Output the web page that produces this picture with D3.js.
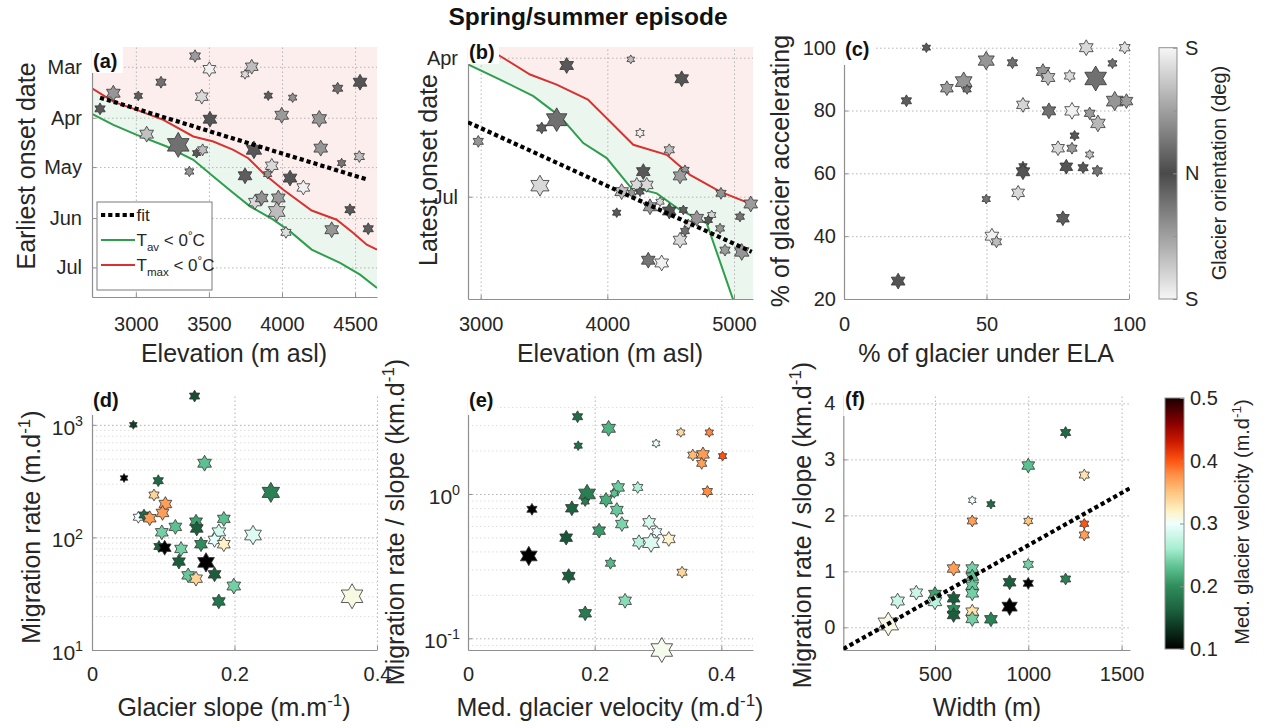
<!DOCTYPE html>
<html>
<head>
<meta charset="utf-8">
<script src="https://cdn.jsdelivr.net/npm/d3@7"></script>
<style>
  body { margin: 0; background: #fff; }
  svg text { font-family: Arial, "Liberation Sans", sans-serif; }
</style>
</head>
<body>
<svg id="fig" width="1268" height="728"></svg>
<script>
// ---------------- data ----------------
// (a) earliest onset date (day of year) against elevation
const aElev   = [2755,2846,3017,3172,3405,3503,3451,3507,3074,3290,3416,3457,3366,3747,3793,3906,4073,3998,4255,4381,4534,3808,3930,3902,3747,4055,4146,4265,4408,4529,3815,3861,3975,3964,4027,4465,4340,4590];
const aOnset  = [85.6,76.1,77.7,69.4,53.5,61.5,78.2,91.9,101,107.5,112.5,110.5,123.7,64.6,60,77.6,78.8,89.5,91.7,73.1,69.4,110.5,120.2,125.3,126.3,127.7,133.4,109.5,118.6,114.6,142.3,139.8,139.8,148,160.7,146.9,159.1,158.5];
const aOrient = [15,-80,20,-40,85,175,-150,10,125,-40,-15,120,-80,150,-120,20,75,-85,80,40,-10,15,-150,80,-20,10,-175,-80,45,120,150,-75,85,-120,155,-15,80,20];
const aArea   = [9,16,6,9,10,14,14,16,16,40,6,9,7,6,14,6,6,16,18,9,16,20,14,6,16,16,14,16,6,9,14,14,16,24,9,9,16,9];
const aRedElev  = [2700,2846,3006,3188,3393,3530,3667,3769,3872,4009,4203,4374,4488,4580,4650];
const aRedDay   = [73.1,81.2,86.2,92.3,102.4,105.5,110.5,115.6,124.7,134.8,147.4,153,161.1,168.2,171.2];
const aGreenElev= [2700,2846,3006,3211,3393,3530,3667,3781,3940,4055,4203,4397,4534,4650];
const aGreenDay = [88.7,95.3,101.4,108.5,116.6,126.7,136.8,144.9,153,160.1,171.2,179.3,186.4,194.5];
const aFitElev  = [2755,4590];
const aFitDay   = [78.8,128.8];
const aElevTicks  = [3000,3500,4000,4500];
const aMonthTicks = [60,91,121,152,182];
const aMonthLabels= ["Mar","Apr","May","Jun","Jul"];

// (b) latest onset date against elevation
const bElev   = [2981,3679,4185,4587,3600,3482,3468,4258,4489,4284,4613,4574,4897,5132,4113,4232,4311,4192,4258,4074,4337,4416,4489,4600,4706,4824,4797,4639,4613,4574,4890,5047,4929,5061,4323,4429];
const bOnset  = [145.8,96.1,92.1,104.8,131.6,137,174.8,140.3,151.3,165.6,164.4,168.4,179.8,186.8,178.7,174.3,174.3,179.4,178.7,192.5,188.6,185.3,191.4,190.7,196.2,194,197.3,200,204.5,210.5,202.8,195.1,217,218.2,223.6,225.4];
const bOrient = [80,-15,120,10,-40,20,150,175,-120,15,-80,85,75,-85,125,-150,150,-80,-20,15,85,150,-10,20,-80,145,-15,155,40,-150,80,-45,85,-80,45,175];
const bArea   = [9,16,5,16,36,9,28,6,9,16,6,16,9,16,16,14,14,6,6,6,16,6,16,6,16,6,6,7,7,16,7,7,9,18,16,16];
const bRedElev  = [2900,3153,3390,3600,3847,4205,4469,4653,4890,5152];
const bRedDay   = [77,89.9,102,108.6,118.4,148,154.6,167.7,178.7,187.4];
const bGreenElev= [2900,3153,3416,3626,3810,3995,4179,4390,4574,4785,4995,5152];
const bGreenDay = [95.4,105.3,116.2,129.4,146.9,156.7,175.4,179.8,190.7,199.5,249.9,290];
const bFitElev  = [2900,5140];
const bFitDay   = [133.3,218.1];
const bElevTicks  = [3000,4000,5000];
const bMonthTicks = [91,182];
const bMonthLabels= ["Apr","Jul"];

// (c) share of glacier accelerating against share under the ELA
const cUnderELA = [28.9,21.9,19,36.1,42,43.2,49.9,59.1,49.9,51.9,53.5,61.1,62.8,62.8,62.8,69.8,71.6,79.2,71.9,80,75.1,80,80.9,76.8,78,83.9,86.2,88.9,85,88.3,94.2,98.5,86.2,89.1,95,99.1];
const cAccel    = [100,83.1,25.7,87.1,89.2,86.7,95.9,95.2,51.8,40,38.2,53.8,81.8,62.3,60.5,92.4,90.5,91,79.9,79.9,68,68,72,45.7,62.1,61.8,66,60.8,100,90.2,95,100,79.1,75.9,83,83];
const cOrient   = [15,-20,10,85,-80,45,80,-40,40,175,-120,150,-145,15,-10,80,-120,150,40,-175,150,85,-15,20,-10,15,125,-45,150,40,-40,155,-85,115,80,-85];
const cArea     = [6,9,16,14,24,6,22,9,6,16,9,14,14,6,16,16,16,10,16,18,14,9,7,14,14,9,6,9,16,40,7,10,10,18,24,14];
const cTicks    = [0,50,100];
const cAccTicks = [20,40,60,80,100];
const orientTicks  = [-180,-90,0,90,180];
const orientLabels = ["S","","N","","S"];

// (d) migration rate against glacier slope
const dSlope = [0.144,0.058,0.045,0.093,0.158,0.087,0.103,0.099,0.065,0.073,0.081,0.098,0.117,0.146,0.147,0.185,0.178,0.172,0.185,0.153,0.094,0.102,0.125,0.122,0.160,0.172,0.135,0.146,0.199,0.178,0.251,0.226,0.365];
const dRate  = [1800,1000,337,319,456,238,198,165,151,158,148,111,124,138,120,146,112,95,87,87,83,81,79,61,60,47,46,43,37,27,251,105,30];
const dVel   = [0.15,0.14,0.1,0.17,0.23,0.34,0.37,0.37,0.3,0.17,0.37,0.24,0.23,0.21,0.16,0.23,0.285,0.295,0.32,0.2,0.16,0.1,0.24,0.16,0.1,0.16,0.235,0.34,0.24,0.18,0.19,0.29,0.31];
const dArea  = [9,5,5,9,16,9,14,14,9,9,14,14,14,14,14,14,16,14,14,14,9,14,14,14,24,14,14,14,16,14,26,24,40];
const dSlopeTicks = [0,0.2,0.4];
const dRateTicks  = [10,100,1000];

// (e) migration rate / slope against median glacier velocity
const eVel   = [0.173,0.222,0.174,0.336,0.381,0.297,0.355,0.371,0.369,0.402,0.378,0.268,0.237,0.231,0.188,0.185,0.218,0.235,0.243,0.207,0.164,0.101,0.155,0.096,0.159,0.286,0.298,0.27,0.289,0.317,0.225,0.338,0.248,0.185,0.306];
const eRatio = [3.43,2.85,2.16,2.67,2.67,2.24,1.86,1.88,1.63,1.83,1.04,1.11,1.11,1.01,1.0,0.885,0.909,0.774,0.619,0.557,0.796,0.783,0.498,0.372,0.27,0.636,0.548,0.463,0.46,0.488,0.331,0.287,0.182,0.149,0.083];
const eArea  = [9,16,6,6,6,5,9,14,9,6,9,9,14,6,24,6,14,14,14,14,14,9,14,24,14,14,9,14,24,14,9,9,14,14,40];
const eVelTicks   = [0,0.2,0.4];
const eRatioTicks = [0.1,1];

// (f) migration rate / slope against glacier width
const fWidth = [1200,1000,1300,700,800,700,1000,1300,1300,1000,600,700,700,1200,900,1000,700,700,500,400,300,500,600,600,600,700,700,800,900,250];
const fRatio = [3.48,2.89,2.72,2.27,2.2,1.9,1.9,1.85,1.65,1.125,1.05,1.05,0.905,0.863,0.804,0.786,0.744,0.607,0.595,0.619,0.47,0.458,0.518,0.321,0.22,0.28,0.149,0.143,0.369,0.06];
const fVel   = [0.17,0.23,0.33,0.3,0.17,0.37,0.35,0.4,0.37,0.24,0.37,0.24,0.23,0.19,0.16,0.1,0.235,0.24,0.21,0.28,0.28,0.27,0.16,0.2,0.16,0.33,0.24,0.19,0.1,0.31];
const fArea  = [9,14,9,5,6,9,7,7,9,9,14,14,14,9,14,9,14,14,14,14,16,16,14,14,14,14,14,14,20,36];
const fFitWidth = [9,1545];
const fFitRatio = [-0.387,2.485];
const fWidthTicks = [500,1000,1500];
const fRatioTicks = [0,1,2,3,4];
const velTicks = [0.1,0.2,0.3,0.4,0.5];

// ---------------- styling helpers ----------------
const svg = d3.select("#fig");
const AXC = "#8f8f8f", TXT = "#262626";
const TICK = 20, LAB = 25;

const velStops  = [0.10,0.13,0.16,0.20,0.23,0.26,0.30,0.32,0.35,0.38,0.40,0.43,0.46,0.50];
const velColors = ["#000000","#0b2e1c","#1b5e3c","#2f8d5c","#5cc090","#a6eed0","#f0ffff","#fff2c4","#ffc57f","#ff8a42","#ff5511","#cc1a00","#880000","#1a0000"];
const velColor = d3.scaleLinear().domain(velStops).range(velColors).clamp(true);
const grayOf = o => d3.interpolateRgb("#4a4a4a", "#f6f6f6")(Math.abs(o) / 180);
const rScale = d3.scaleSqrt().domain([0, 40]).range([0, 12.5]);

function hexagram(R) {
  const p = [];
  for (let k = 0; k < 12; k++) {
    const a = (-90 + k * 30) * Math.PI / 180;
    const r = k % 2 ? R / Math.sqrt(3) : R;
    p.push([r * Math.cos(a), r * Math.sin(a)]);
  }
  return d3.line()(p) + "Z";
}

let clipN = 0;
function clipRect(x, y) {
  const id = "clip" + (clipN++);
  const [a0, a1] = x.range(), [b0, b1] = y.range();
  svg.append("clipPath").attr("id", id).append("rect")
    .attr("x", Math.min(a0, a1)).attr("y", Math.min(b0, b1))
    .attr("width", Math.abs(a1 - a0)).attr("height", Math.abs(b1 - b0));
  return `url(#${id})`;
}

function richText(parent, parts, x, y, size, opts = {}) {
  const t = parent.append("text").attr("x", x).attr("y", y)
    .attr("font-size", size).attr("text-anchor", opts.anchor || "middle")
    .attr("fill", opts.fill || TXT);
  if (opts.rotate) t.attr("transform", `rotate(${opts.rotate},${x},${y})`);
  if (opts.weight) t.attr("font-weight", opts.weight);
  if (opts.family) t.attr("font-family", opts.family);
  let shift = 0;
  parts.forEach(p => {
    const [s, k] = typeof p === "string" ? [p, "n"] : p;
    const target = k === "sup" ? -0.42 * size : k === "sub" ? 0.32 * size : 0;
    t.append("tspan").attr("dy", target - shift)
      .attr("font-size", k === "n" ? size : size * 0.68).text(s);
    shift = target;
  });
  return t;
}

function gridX(g, x, y, vals, color) {
  const [b0, b1] = y.range();
  const gg = g.append("g").attr("transform", `translate(0,${Math.max(b0, b1)})`)
    .call(d3.axisBottom(x).tickValues(vals).tickSize(-Math.abs(b1 - b0)).tickFormat(""));
  gg.select(".domain").remove();
  gg.selectAll("line").attr("stroke", color || "#b5b5b5").attr("stroke-dasharray", "1.5,2.5");
}
function gridY(g, x, y, vals, color) {
  const [a0, a1] = x.range();
  const gg = g.append("g").attr("transform", `translate(${a0},0)`)
    .call(d3.axisLeft(y).tickValues(vals).tickSize(-(a1 - a0)).tickFormat(""));
  gg.select(".domain").remove();
  gg.selectAll("line").attr("stroke", color || "#b5b5b5").attr("stroke-dasharray", "1.5,2.5");
}
function styleAxis(gg) {
  gg.select(".domain").attr("stroke", AXC).attr("stroke-width", 1.2);
  gg.selectAll(".tick line").attr("stroke", AXC);
  gg.selectAll(".tick text").attr("fill", TXT).attr("font-size", TICK)
    .attr("font-family", "Arial, 'Liberation Sans', sans-serif");
}
function axisBottom(g, x, y, vals, fmt, pad) {
  const gg = g.append("g").attr("transform", `translate(0,${y.range()[0]})`)
    .call(d3.axisBottom(x).tickValues(vals).tickFormat(fmt).tickSizeInner(-4).tickSizeOuter(0).tickPadding(pad));
  styleAxis(gg);
  return gg;
}
function axisLeft(g, x, y, vals, fmt, pad) {
  const gg = g.append("g").attr("transform", `translate(${x.range()[0]},0)`)
    .call(d3.axisLeft(y).tickValues(vals).tickFormat(fmt).tickSizeInner(-4).tickSizeOuter(0).tickPadding(pad));
  styleAxis(gg);
  return gg;
}
function logLabels(g, x, y, vals, pad, size) {
  vals.forEach(v => {
    const e = Math.round(Math.log10(v));
    richText(g, ["10", [String(e), "sup"]], x.range()[0] - pad, y(v) + 10, size, { anchor: "end" });
  });
}
function panelTag(g, txt, bx, by, bw, bh, tx, ty) {
  g.append("rect").attr("x", bx).attr("y", by).attr("width", bw).attr("height", bh).attr("fill", "#fff");
  g.append("text").attr("x", tx).attr("y", ty).attr("font-size", 20).attr("font-weight", "bold")
    .attr("font-family", "'Liberation Serif', 'Times New Roman', serif").attr("fill", "#111").text(txt);
}
function stars(g, xs, ys, areas, fill, x, y) {
  g.append("g").selectAll("path").data(d3.range(xs.length)).join("path")
    .attr("transform", i => `translate(${x(xs[i])},${y(ys[i])})`)
    .attr("d", i => hexagram(rScale(areas[i])))
    .attr("fill", i => fill(i))
    .attr("stroke", "#333").attr("stroke-width", 0.8).attr("stroke-linejoin", "miter");
}
function fitLine(g, xs, ys, x, y, clip) {
  g.append("path").attr("clip-path", clip)
    .attr("d", d3.line()(xs.map((v, i) => [x(v), y(ys[i])])))
    .attr("fill", "none").attr("stroke", "#000").attr("stroke-width", 4.2)
    .attr("stroke-dasharray", "4.2,3");
}
function thresholdBands(g, x, y, redX, redY, greenX, greenY, clip) {
  const top = y.domain()[0];
  const red = redX.map((v, i) => [v, redY[i]]);
  const green = greenX.map((v, i) => [v, greenY[i]]);
  const body = g.append("g").attr("clip-path", clip);
  body.append("path")
    .attr("d", d3.area().x(d => x(d[0])).y0(y(top)).y1(d => y(d[1]))(red))
    .attr("fill", "rgba(235,90,90,0.10)");
  body.append("path")
    .attr("d", d3.line().x(d => x(d[0])).y(d => y(d[1]))(red.concat(green.slice().reverse())) + "Z")
    .attr("fill", "rgba(70,175,110,0.11)");
  return body;
}
function thresholdLines(body, x, y, redX, redY, greenX, greenY) {
  const ln = d3.line().x(d => x(d[0])).y(d => y(d[1]));
  body.append("path").attr("d", ln(greenX.map((v, i) => [v, greenY[i]])))
    .attr("fill", "none").attr("stroke", "#2f9e4c").attr("stroke-width", 2);
  body.append("path").attr("d", ln(redX.map((v, i) => [v, redY[i]])))
    .attr("fill", "none").attr("stroke", "#d8322f").attr("stroke-width", 2);
}

// ---------------- title ----------------
svg.append("text").attr("x", 588).attr("y", 25).attr("text-anchor", "middle")
  .attr("font-size", 24.5).attr("font-weight", "bold").attr("fill", "#111")
  .text("Spring/summer episode");

// ---------------- (a) ----------------
{
  const g = svg.append("g");
  const x = d3.scaleLinear().domain([2700, 4650]).range([92, 377]);
  const y = d3.scaleLinear().domain([48, 200]).range([47, 297]);
  const clip = clipRect(x, y);
  thresholdBands(g, x, y, aRedElev, aRedDay, aGreenElev, aGreenDay, clip);
  gridX(g, x, y, aElevTicks);
  gridY(g, x, y, aMonthTicks);
  thresholdLines(g.append("g").attr("clip-path", clip), x, y, aRedElev, aRedDay, aGreenElev, aGreenDay);
  axisBottom(g, x, y.copy().range([297, 47]), aElevTicks, d3.format("d"), 20);
  axisLeft(g, x, y, aMonthTicks, (d, i) => aMonthLabels[i], 10);
  stars(g, aElev, aOnset, aArea, i => grayOf(aOrient[i]), x, y);
  fitLine(g, aFitElev, aFitDay, x, y, clip);
  panelTag(g, "(a)", 92, 44, 31, 29, 93, 68);
  richText(g, ["Earliest onset date"], 35, 166, LAB, { rotate: -90 });
  richText(g, ["Elevation (m asl)"], 234, 362, LAB);

  // legend
  const lg = g.append("g");
  lg.append("rect").attr("x", 97).attr("y", 202).attr("width", 115).attr("height", 88)
    .attr("fill", "#fff").attr("stroke", "#7a7a7a").attr("stroke-width", 1);
  const rows = [
    { y: 215, stroke: "#000", dash: "4.2,3", w: 4.2, parts: ["fit"] },
    { y: 240, stroke: "#2f9e4c", dash: null, w: 2, parts: ["T", ["av", "sub"], " < 0", ["°", "sup"], "C"] },
    { y: 265, stroke: "#d8322f", dash: null, w: 2, parts: ["T", ["max", "sub"], " < 0", ["°", "sup"], "C"] }
  ];
  rows.forEach(r => {
    const l = lg.append("line").attr("x1", 101).attr("x2", 135).attr("y1", r.y).attr("y2", r.y)
      .attr("stroke", r.stroke).attr("stroke-width", r.w);
    if (r.dash) l.attr("stroke-dasharray", r.dash);
    richText(lg, r.parts, 136.5, r.y + 6, 17, { anchor: "start" });
  });
}

// ---------------- (b) ----------------
{
  const g = svg.append("g");
  const x = d3.scaleLinear().domain([2900, 5150]).range([468, 753]);
  const y = d3.scaleLinear().domain([84, 249]).range([47, 299]);
  const clip = clipRect(x, y);
  thresholdBands(g, x, y, bRedElev, bRedDay, bGreenElev, bGreenDay, clip);
  gridX(g, x, y, bElevTicks);
  gridY(g, x, y, bMonthTicks);
  thresholdLines(g.append("g").attr("clip-path", clip), x, y, bRedElev, bRedDay, bGreenElev, bGreenDay);
  axisBottom(g, x, y.copy().range([299, 47]), bElevTicks, d3.format("d"), 18);
  axisLeft(g, x, y, bMonthTicks, (d, i) => bMonthLabels[i], 10);
  stars(g, bElev, bOnset, bArea, i => grayOf(bOrient[i]), x, y);
  fitLine(g, bFitElev, bFitDay, x, y, clip);
  panelTag(g, "(b)", 468, 38, 31, 26, 469, 59);
  richText(g, ["Latest onset date"], 437, 170, LAB, { rotate: -90 });
  richText(g, ["Elevation (m asl)"], 610, 362, LAB);
}

// ---------------- (c) ----------------
{
  const g = svg.append("g");
  const x = d3.scaleLinear().domain([0, 100]).range([844, 1129]);
  const y = d3.scaleLinear().domain([20, 100]).range([299, 47.7]);
  gridX(g, x, y, [50, 100]);
  gridY(g, x, y, [40, 60, 80, 100]);
  axisBottom(g, x, y, cTicks, d3.format("d"), 18);
  axisLeft(g, x, y, cAccTicks, d3.format("d"), 8);
  stars(g, cUnderELA, cAccel, cArea, i => grayOf(cOrient[i]), x, y);
  panelTag(g, "(c)", 844, 36, 30, 29, 845, 56);
  richText(g, ["% of glacier accelerating"], 789, 171, LAB, { rotate: -90 });
  richText(g, ["% of glacier under ELA"], 986, 362, LAB);

  // orientation colour bar
  const cb = d3.scaleLinear().domain([-180, 180]).range([299, 47.7]);
  const gid = "gradOrient";
  const grad = svg.append("defs").append("linearGradient").attr("id", gid)
    .attr("x1", 0).attr("x2", 0).attr("y1", 1).attr("y2", 0);
  d3.range(-180, 181, 15).forEach(o => grad.append("stop")
    .attr("offset", (o + 180) / 360).attr("stop-color", grayOf(o)));
  g.append("rect").attr("x", 1159).attr("y", 47.7).attr("width", 18).attr("height", 299 - 47.7)
    .attr("fill", `url(#${gid})`).attr("stroke", AXC).attr("stroke-width", 1);
  const ca = g.append("g").attr("transform", "translate(1177,0)")
    .call(d3.axisRight(cb).tickValues(orientTicks).tickFormat((d, i) => orientLabels[i])
      .tickSizeInner(-4).tickSizeOuter(0).tickPadding(8));
  ca.select(".domain").remove();
  styleAxis(ca);
  richText(g, ["Glacier orientation (deg)"], 1226, 173, 20, { rotate: -90 });
}

// ---------------- (d) ----------------
{
  const g = svg.append("g");
  const x = d3.scaleLinear().domain([0, 0.4]).range([92, 377]);
  const y = d3.scaleLog().domain([10, 1840]).range([650, 395]);
  const minors = [];
  [10, 100, 1000].forEach(b => d3.range(2, 10).forEach(k => { if (k * b < 1840) minors.push(k * b); }));
  gridY(g, x, y, minors, "#dedede");
  gridY(g, x, y, [100, 1000], "#b0b0b0");
  gridX(g, x, y, [0.2, 0.4]);
  axisBottom(g, x, y, dSlopeTicks, d3.format("~g"), 17);
  axisLeft(g, x, y, dRateTicks, () => "", 9);
  logLabels(g, x, y, dRateTicks, 9, 21);
  stars(g, dSlope, dRate, dArea, i => velColor(dVel[i]), x, y);
  panelTag(g, "(d)", 92, 386, 30, 29, 93, 407);
  richText(g, ["Migration rate (m.d", ["-1", "sup"], ")"], 40, 527, LAB, { rotate: -90 });
  richText(g, ["Glacier slope (m.m", ["-1", "sup"], ")"], 234, 716, LAB);
}

// ---------------- (e) ----------------
{
  const g = svg.append("g");
  const x = d3.scaleLinear().domain([0, 0.45]).range([468, 753]);
  const y = d3.scaleLog().domain([0.083, 4.85]).range([650, 395]);
  const minors = [];
  [0.01, 0.1, 1].forEach(b => d3.range(2, 10).forEach(k => {
    const v = k * b; if (v > 0.083 && v < 4.85) minors.push(v);
  }));
  gridY(g, x, y, minors, "#dedede");
  gridY(g, x, y, [0.1, 1], "#b0b0b0");
  gridX(g, x, y, [0.2, 0.4]);
  axisBottom(g, x, y, eVelTicks, d3.format("~g"), 17);
  axisLeft(g, x, y, eRatioTicks, () => "", 8);
  logLabels(g, x, y, eRatioTicks, 8, 21);
  stars(g, eVel, eRatio, eArea, i => velColor(eVel[i]), x, y);
  panelTag(g, "(e)", 468, 386, 29, 29, 469, 407);
  richText(g, ["Migration rate / slope (km.d", ["-1", "sup"], ")"], 404, 522, LAB, { rotate: -90 });
  richText(g, ["Med. glacier velocity (m.d", ["-1", "sup"], ")"], 610, 716, LAB);
}

// ---------------- (f) ----------------
{
  const g = svg.append("g");
  const x = d3.scaleLinear().domain([9, 1545]).range([843.3, 1130]);
  const y = d3.scaleLinear().domain([-0.405, 4.15]).range([650, 395]);
  const clip = clipRect(x, y);
  gridX(g, x, y, fWidthTicks);
  gridY(g, x, y, fRatioTicks);
  axisBottom(g, x, y, fWidthTicks, d3.format("d"), 17);
  axisLeft(g, x, y, fRatioTicks, d3.format("d"), 8);
  stars(g, fWidth, fRatio, fArea, i => velColor(fVel[i]), x, y);
  fitLine(g, fFitWidth, fFitRatio, x, y, clip);
  panelTag(g, "(f)", 843.3, 386, 28, 30, 845, 406);
  richText(g, ["Migration rate / slope (km.d", ["-1", "sup"], ")"], 811, 525, LAB, { rotate: -90 });
  richText(g, ["Width (m)"], 987, 716, LAB);

  // velocity colour bar
  const cb = d3.scaleLinear().domain([0.1, 0.5]).range([649, 398]);
  const gid = "gradVel";
  const grad = svg.append("defs").append("linearGradient").attr("id", gid)
    .attr("x1", 0).attr("x2", 0).attr("y1", 1).attr("y2", 0);
  velStops.forEach((s, i) => grad.append("stop").attr("offset", (s - 0.1) / 0.4).attr("stop-color", velColors[i]));
  g.append("rect").attr("x", 1165).attr("y", 398).attr("width", 19).attr("height", 251)
    .attr("fill", `url(#${gid})`).attr("stroke", AXC).attr("stroke-width", 1);
  const ca = g.append("g").attr("transform", "translate(1184,0)")
    .call(d3.axisRight(cb).tickValues(velTicks).tickFormat(d3.format(".1f"))
      .tickSizeInner(-4).tickSizeOuter(0).tickPadding(6));
  ca.select(".domain").remove();
  styleAxis(ca);
  richText(g, ["Med. glacier velocity (m.d", ["-1", "sup"], ")"], 1249, 522, 20, { rotate: -90 });
}
</script>
</body>
</html>
